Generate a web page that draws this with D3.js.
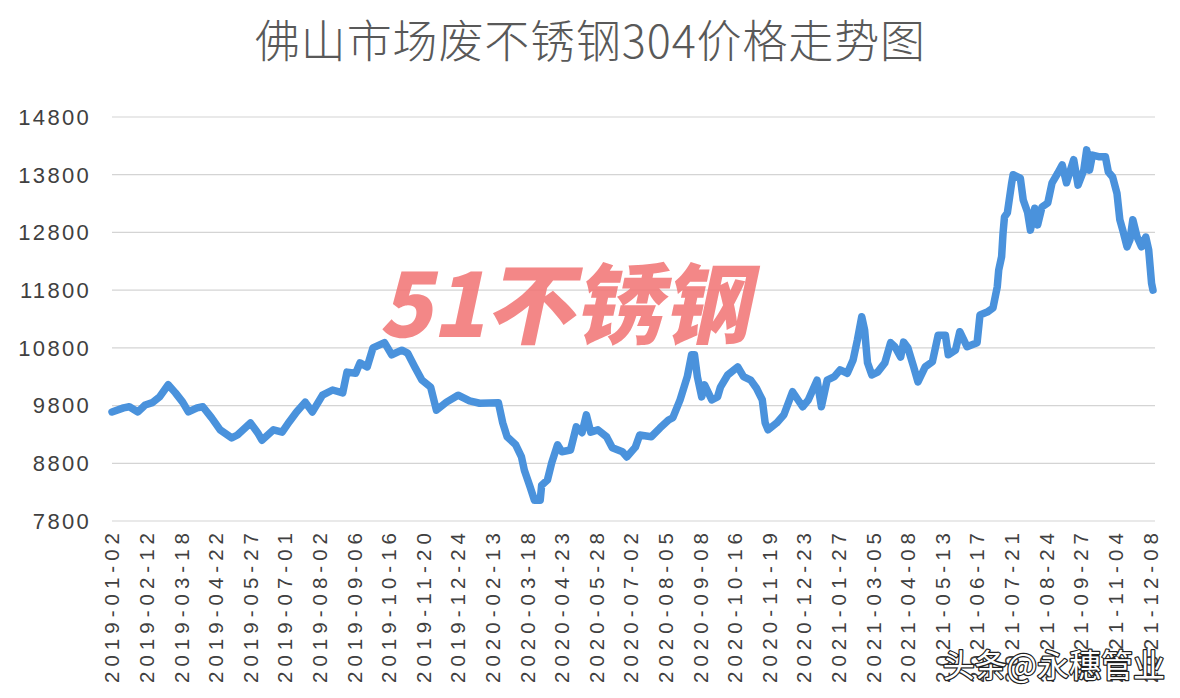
<!DOCTYPE html>
<html><head><meta charset="utf-8">
<script src="https://cdn.jsdelivr.net/npm/d3@7"></script>
<style>
html,body{margin:0;padding:0;background:#fff;}
svg{display:block;}
</style></head>
<body>
<svg id="chart" width="1180" height="698"></svg>
<script>
const title = "佛山市场废不锈钢304价格走势图";
const xLabels = ["2019-01-02","2019-02-12","2019-03-18","2019-04-22","2019-05-27","2019-07-01","2019-08-02","2019-09-06","2019-10-16","2019-11-20","2019-12-24","2020-02-13","2020-03-18","2020-04-23","2020-05-28","2020-07-02","2020-08-05","2020-09-08","2020-10-16","2020-11-19","2020-12-23","2021-01-27","2021-03-05","2021-04-08","2021-05-13","2021-06-17","2021-07-21","2021-08-24","2021-09-27","2021-11-04","2021-12-08"];
const labelStep = 24;           // rows between tick labels
const lastRow = 722;
const yTicks = [7800, 8800, 9800, 10800, 11800, 12800, 13800, 14800];

// row index of each sampled point, and price (元/吨)
const rowIndex = [0,8,12,18,23,28,33,39,44,49,53,59,63,69,75,83,87,96,101,104,112,118,
  123,128,134,139,146,153,160,163,169,172,177,181,189,194,201,205,210,215,221,225,232,240,248,255,
  268,271,274,280,284,286,290,293,297,298,302,305,309,312,318,322,326,329,332,337,343,347,354,357,363,366,374,380,
  386,389,394,399,402,404,406,409,411,416,420,422,427,434,438,443,447,451,453,455,461,466,472,479,483,489,492,496,501,505,
  510,514,517,520,522,524,527,531,536,540,543,547,549,552,556,559,564,569,573,578,580,585,588,593,600,602,607,611,614,615,617,618,619,
  621,624,625,630,632,635,637,640,642,645,649,652,656,659,662,667,670,674,676,678,680,685,689,691,694,697,699,701,704,706,708,711,714,717,719,721,722];
const price = [9690,9760,9780,9690,9810,9850,9950,10160,10020,9860,9690,9760,9780,9590,9380,9240,9290,9500,9330,9200,9380,9340,
  9520,9690,9860,9690,9980,10070,10020,10380,10360,10540,10470,10800,10890,10680,10760,10710,10470,10240,10120,9720,9860,9980,9880,9840,
  9850,9500,9260,9120,8910,8680,8390,8160,8160,8420,8510,8810,9120,9000,9030,9430,9330,9640,9340,9380,9260,9070,9000,8910,9080,9290,9260,9410,
  9550,9590,9900,10300,10680,10680,10300,9950,10160,9900,9950,10120,10330,10470,10300,10240,10100,9900,9500,9380,9500,9640,10040,9780,9900,10240,9780,10240,10300,10420,
  10360,10590,10940,11340,11110,10540,10330,10380,10540,10890,10820,10640,10900,10800,10470,10210,10470,10560,11020,11020,10680,10760,11080,10820,10890,11370,11420,11490,11860,12150,12380,12790,13070,
  13140,13660,13800,13740,13360,13150,12840,13220,12930,13240,13310,13660,13830,13970,13660,14060,13620,13880,14230,13880,14140,14110,14110,13850,13760,13480,13020,12840,12550,12670,13020,12720,12550,12720,12500,11920,11800];

const svg = d3.select("#chart");
const plotLeft = 112, plotRight = 1155, plotTop = 117, plotBottom = 521;

const x = d3.scaleLinear().domain([0, lastRow]).range([112, 1153]);
const y = d3.scaleLinear().domain([7800, 14800]).range([plotBottom, plotTop]);

// title
svg.append("text").attr("x", 590).attr("y", 58).attr("text-anchor", "middle")
  .attr("font-family", "'Noto Sans CJK SC', sans-serif").attr("font-size", 45)
  .attr("font-weight", 300).attr("textLength", 670).attr("lengthAdjust", "spacing")
  .attr("fill", "#595959").text(title);

// gridlines
svg.append("g").selectAll("line").data(yTicks).join("line")
  .attr("x1", plotLeft).attr("x2", plotRight)
  .attr("y1", d => y(d)).attr("y2", d => y(d))
  .attr("stroke", "#d4d4d4").attr("stroke-width", 1.2);

// y axis labels
svg.append("g").selectAll("text").data(yTicks).join("text")
  .attr("x", 91).attr("y", d => y(d)).attr("dy", "0.36em")
  .attr("text-anchor", "end")
  .attr("font-family", "'Liberation Sans', Arial, sans-serif").attr("font-size", 22)
  .attr("letter-spacing", "2.3px")
  .attr("fill", "#404040").text(d => d);

// x axis labels
svg.append("g").selectAll("text").data(xLabels).join("text")
  .attr("transform", (d, i) => `translate(${x(i * labelStep)},533) rotate(-90)`)
  .attr("text-anchor", "end").attr("dy", "0.36em")
  .attr("font-family", "'Liberation Sans', Arial, sans-serif").attr("font-size", 20.5)
  .attr("textLength", 150).attr("lengthAdjust", "spacing")
  .attr("fill", "#404040").text(d => d);

// watermark 51不锈钢
svg.append("text").attr("transform", "translate(564,337) skewX(-12)")
  .attr("text-anchor", "middle")
  .attr("font-family", "'Noto Sans CJK SC', sans-serif").attr("font-weight", 900)
  .attr("font-size", 88).attr("fill", "#f27373").attr("opacity", 0.85)
  .text("51不锈钢");

// line
const pts = rowIndex.map((r, i) => [r, price[i]]);
const line = d3.line().x(d => x(d[0])).y(d => y(d[1]));
svg.append("path").datum(pts).attr("d", line)
  .attr("fill", "none").attr("stroke", "#4a92dc").attr("stroke-width", 7.5)
  .attr("stroke-linejoin", "round").attr("stroke-linecap", "round");

// bottom-right credit
svg.append("text").attr("x", 1165).attr("y", 677).attr("text-anchor", "end")
  .attr("font-family", "'Noto Sans CJK SC', sans-serif").attr("font-size", 32)
  .attr("fill", "#ffffff").attr("stroke", "#222").attr("stroke-width", 2.5)
  .attr("paint-order", "stroke").attr("stroke-linejoin", "round")
  .text("头条@永穗管业");
</script>
</body></html>
